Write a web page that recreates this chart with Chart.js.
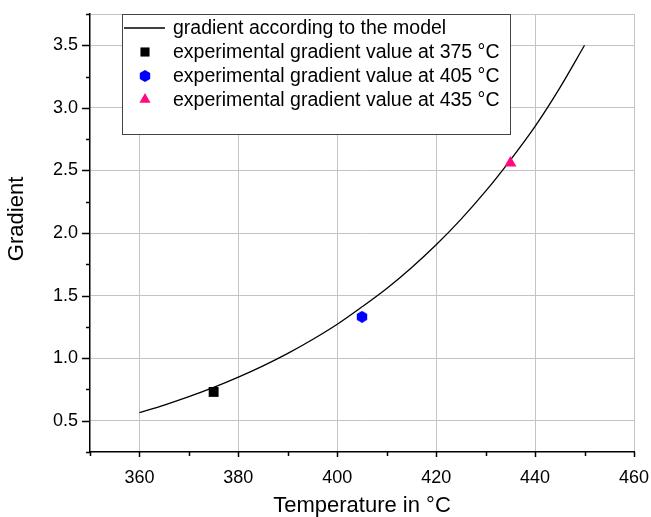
<!DOCTYPE html>
<html>
<head>
<meta charset="utf-8">
<script src="https://cdn.jsdelivr.net/npm/chart.js@4.4.1/dist/chart.umd.min.js"></script>
<style>
html,body{margin:0;padding:0;background:#fff;}
#wrap{width:651px;height:517px;}
</style>
</head>
<body>
<div id="wrap"><canvas id="c" width="651" height="517"></canvas></div>
<script>
// ---- data ----
const modelLabel = 'gradient according to the model';
const modelTemps = [360, 365, 370, 375, 380, 385, 390, 395, 400, 405, 410, 415, 420, 425, 430, 435, 440, 445, 450];
const modelGradient = [0.565, 0.625, 0.692, 0.766, 0.848, 0.938, 1.038, 1.149, 1.271, 1.410, 1.557, 1.723, 1.906, 2.109, 2.334, 2.583, 2.852, 3.160, 3.500];

const expLabels = ['experimental gradient value at 375 °C', 'experimental gradient value at 405 °C', 'experimental gradient value at 435 °C'];
const expTemps = [375, 405, 435];
const expGradient = [0.73, 1.33, 2.56];
const expColors = ['#000000', '#0000ff', '#ff0a80'];

const xRange = [350, 460];
const yRange = [0.25, 3.75];
const xTitle = 'Temperature in °C';
const yTitle = 'Gradient';

// ---- styling helpers ----
const FONT = '"Liberation Sans", Arial, sans-serif';
function isMajorX(v){ return v >= 360 && Math.abs((v - 360) % 20) < 1e-9; }
function isMajorY(v){ return Math.abs((v / 0.5) - Math.round(v / 0.5)) < 1e-9; }

function hexImage(size, color){
  const c = document.createElement('canvas');
  c.width = size; c.height = size;
  const g = c.getContext('2d');
  const r = size / 2;
  g.fillStyle = color;
  g.beginPath();
  for (let i = 0; i < 6; i++) {
    const a = -Math.PI / 2 + i * Math.PI / 3;
    const px = r + r * Math.cos(a), py = r + r * Math.sin(a);
    if (i) g.lineTo(px, py); else g.moveTo(px, py);
  }
  g.closePath();
  g.fill();
  return c;
}
const hex = hexImage(12, expColors[1]);
const pointStyles = ['rect', hex, 'triangle'];
const pointRadii = [7, 6, 7];

const datasets = [{
  type: 'line',
  label: modelLabel,
  data: modelTemps.map((t, i) => ({x: t, y: modelGradient[i]})),
  borderColor: '#000',
  borderWidth: 1.3,
  pointRadius: 0,
  cubicInterpolationMode: 'monotone',
  fill: false,
  order: 5
}];
expTemps.forEach((t, i) => {
  datasets.push({
    type: 'scatter',
    label: expLabels[i],
    data: [{x: t, y: expGradient[i]}],
    backgroundColor: expColors[i],
    borderColor: expColors[i],
    borderWidth: 0,
    pointStyle: pointStyles[i],
    pointRadius: pointRadii[i],
    order: 1
  });
});

// tick marks (major longer, minor shorter) drawn from the scales
const tickMarks = {
  id: 'tickMarks',
  afterDraw(chart){
    const {ctx, chartArea: a, scales: {x, y}} = chart;
    ctx.save();
    ctx.strokeStyle = '#000';
    ctx.lineWidth = 1.5;
    ctx.beginPath();
    y.ticks.forEach(t => {
      const py = Math.round(y.getPixelForValue(t.value)) + 0.5;
      const len = isMajorY(t.value) ? 8 : 4;
      ctx.moveTo(a.left - len, py); ctx.lineTo(a.left, py);
    });
    x.ticks.forEach(t => {
      const px = Math.round(x.getPixelForValue(t.value)) + 0.5;
      const len = isMajorX(t.value) ? 5 : 4;
      ctx.moveTo(px, a.bottom); ctx.lineTo(px, a.bottom + len);
    });
    ctx.stroke();
    ctx.restore();
  }
};

// boxed legend inside the plot area
const boxLegend = {
  id: 'boxLegend',
  afterDatasetsDraw(chart){
    const {ctx, chartArea: a} = chart;
    const left = a.left + 32, top = a.top, w = 388, h = 120;
    ctx.save();
    ctx.fillStyle = '#fff';
    ctx.fillRect(left, top, w, h);
    ctx.strokeStyle = '#444';
    ctx.lineWidth = 1;
    ctx.strokeRect(left + 0.5, top + 0.5, w, h);
    const rows = [14, 38, 62, 85.5];
    ctx.textBaseline = 'middle';
    ctx.textAlign = 'left';
    chart.data.datasets.forEach((ds, i) => {
      const yy = top + rows[i];
      if (ds.type === 'line') {
        ctx.strokeStyle = '#000';
        ctx.lineWidth = 1.3;
        ctx.beginPath();
        ctx.moveTo(left + 2, yy); ctx.lineTo(left + 43, yy);
        ctx.stroke();
      } else {
        ctx.beginPath();
        ctx.fillStyle = ds.backgroundColor;
        ctx.strokeStyle = ds.backgroundColor;
        Chart.helpers.drawPoint(ctx, {pointStyle: ds.pointStyle, radius: ds.pointRadius * 0.92, rotation: 0, borderWidth: 0}, left + 23, yy);
        ctx.beginPath();
      }
      ctx.font = '19.5px ' + FONT;
      ctx.fillStyle = '#000';
      ctx.fillText(ds.label, left + 51, yy + 1);
    });
    ctx.restore();
  }
};

new Chart(document.getElementById('c'), {
  data: {datasets},
  options: {
    responsive: false,
    animation: false,
    devicePixelRatio: 1,
    layout: {padding: {left: 0, top: 14, right: 17, bottom: 0}},
    plugins: {legend: {display: false}, tooltip: {enabled: false}},
    scales: {
      x: {
        type: 'linear',
        min: xRange[0], max: xRange[1],
        ticks: {
          stepSize: 10, autoSkip: false, maxRotation: 0, color: '#000', padding: 10,
          font: {family: FONT, size: 18},
          callback: v => isMajorX(v) ? String(v) : ''
        },
        grid: {
          color: c => (c.tick && isMajorX(c.tick.value)) ? '#c4c4c4' : 'rgba(0,0,0,0)',
          lineWidth: 1, drawTicks: true, tickLength: 5, tickColor: 'rgba(0,0,0,0)'
        },
        border: {display: true, color: '#000', width: 1.5},
        title: {display: true, text: xTitle, color: '#000', font: {family: FONT, size: 22, lineHeight: 1.0}, padding: {top: 0, bottom: 0}},
        afterFit: s => { s.height = 65; s.paddingLeft = 0; s.paddingRight = 0; }
      },
      y: {
        type: 'linear',
        min: yRange[0], max: yRange[1],
        ticks: {
          stepSize: 0.25, autoSkip: false, color: '#000', padding: 4,
          font: {family: FONT, size: 18},
          callback: v => (isMajorY(v) && v >= 0.5 && v <= 3.5) ? v.toFixed(1) : ''
        },
        grid: {
          color: c => (c.tick && (isMajorY(c.tick.value) || c.tick.value >= 3.75) && c.tick.value > 0.3) ? '#c4c4c4' : 'rgba(0,0,0,0)',
          lineWidth: 1, drawTicks: true, tickLength: 8, tickColor: 'rgba(0,0,0,0)'
        },
        border: {display: true, color: '#000', width: 1.5},
        title: {display: true, text: '\u2003 ' + yTitle, color: '#000', font: {family: FONT, size: 22}, padding: {top: 4}},
        afterFit: s => { s.width = 90; s.paddingTop = 0; s.paddingBottom = 0; }
      }
    }
  },
  plugins: [tickMarks, boxLegend]
});
</script>
</body>
</html>
